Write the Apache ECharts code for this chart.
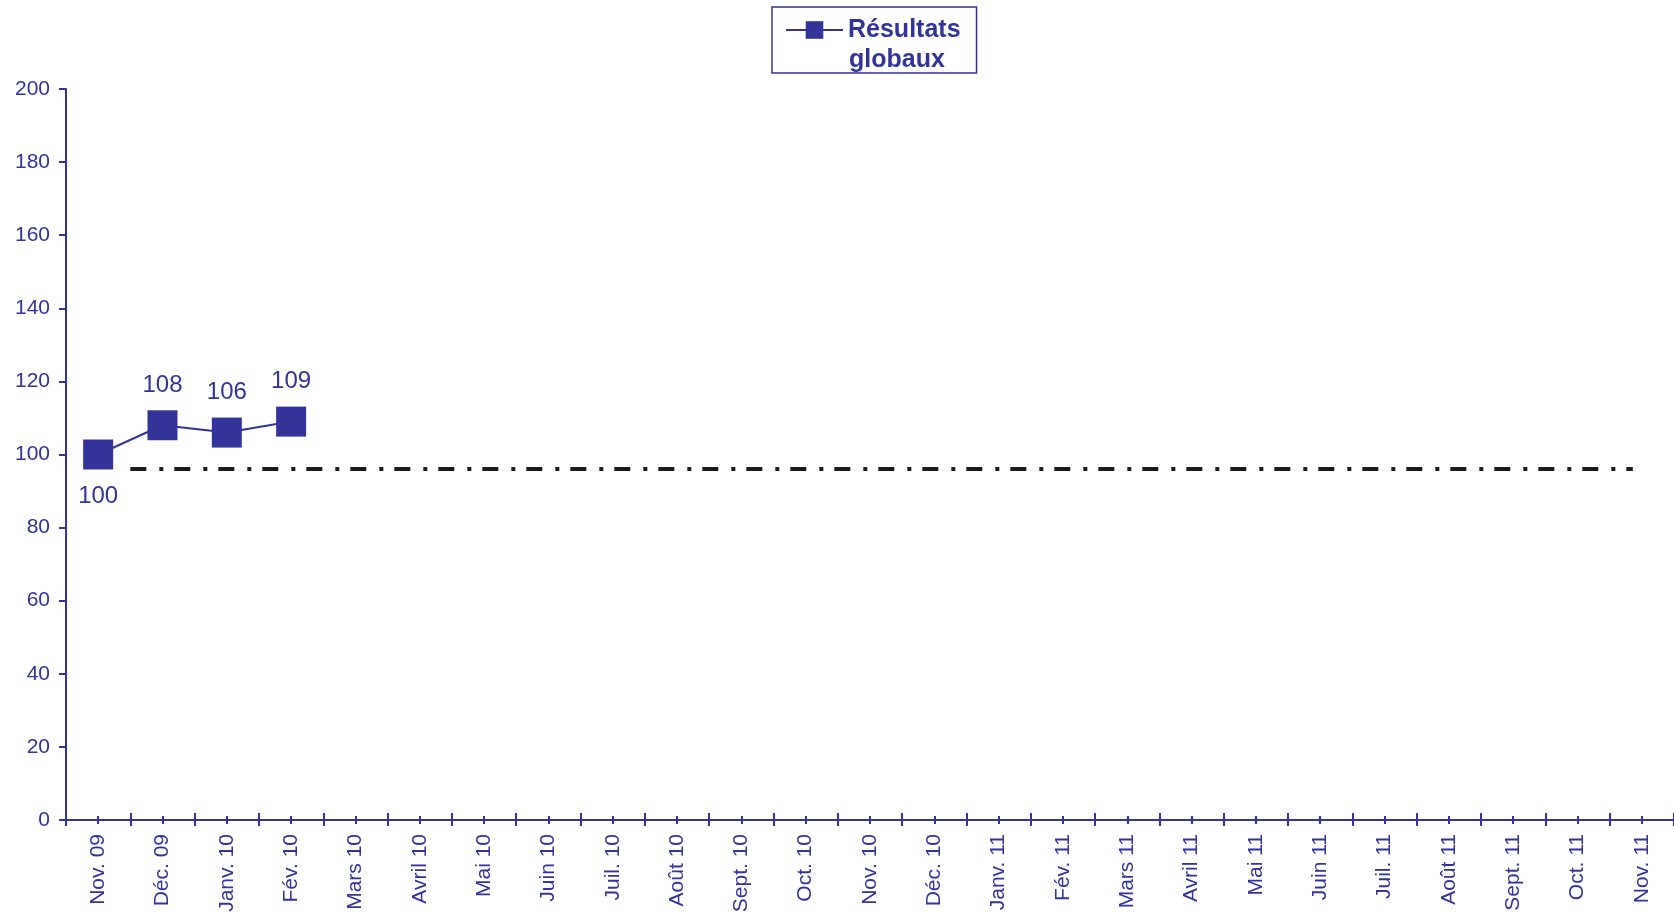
<!DOCTYPE html>
<html>
<head>
<meta charset="utf-8">
<script src="https://cdn.jsdelivr.net/npm/echarts@6/dist/echarts.min.js"></script>
<style>
  html, body { margin: 0; padding: 0; background: #fff; }
  #chart { width: 1674px; height: 917px; }
</style>
</head>
<body>
<div id="chart"></div>
<script>
// data
var months = ['Nov. 09', 'Déc. 09', 'Janv. 10', 'Fév. 10', 'Mars 10', 'Avril 10', 'Mai 10', 'Juin 10',
    'Juil. 10', 'Août 10', 'Sept. 10', 'Oct. 10', 'Nov. 10', 'Déc. 10', 'Janv. 11', 'Fév. 11',
    'Mars 11', 'Avril 11', 'Mai 11', 'Juin 11', 'Juil. 11', 'Août 11', 'Sept. 11', 'Oct. 11', 'Nov. 11'];
var results = [100, 108, 106, 109];
var refLevel = 96;
var refSpan = [1, 24.36]; // in category units, from Déc. 09 boundary to near the end
var yTicks = [0, 200, 20]; // min, max, step

var blue = '#333399';
var font = 'Liberation Sans, Arial, sans-serif';

var myChart = echarts.init(document.getElementById('chart'));

var resultData = results.map(function(v, i) {
    if (i === 0) {
        return { value: v, label: { position: 'bottom', distance: 15 } };
    }
    return v;
});

option = {
    animation: false,
    backgroundColor: '#fff',
    textStyle: { fontFamily: font },
    grid: { left: 66, top: 89, width: 1611, height: 731 },
    legend: {
        data: ['Résultats globaux'],
        left: 772,
        top: 7,
        padding: [9, 16, 29, 13],
        borderColor: blue,
        borderWidth: 1.5,
        borderRadius: 0,
        itemWidth: 57,
        itemHeight: 22,
        formatter: function() { return 'Résultats'; },
        textStyle: {
            color: blue,
            fontSize: 25,
            fontWeight: 'bold',
            fontFamily: font,
            lineHeight: 28
        }
    },
    graphic: [{
        type: 'text',
        left: 849,
        top: 48,
        style: {
            text: 'globaux',
            fill: blue,
            fontSize: 25,
            fontWeight: 'bold',
            fontFamily: font
        }
    }],
    xAxis: [
        {
            type: 'category',
            data: months,
            position: 'bottom',
            boundaryGap: true,
            axisLine: { show: true, lineStyle: { color: blue, width: 2 } },
            axisTick: { show: false },
            axisLabel: {
                rotate: 90,
                interval: 0,
                margin: 14,
                color: blue,
                fontSize: 21,
                fontFamily: font
            }
        },
        {
            // boundary ticks crossing the axis
            type: 'category',
            data: months,
            position: 'bottom',
            boundaryGap: true,
            offset: -7,
            axisLine: { show: false },
            axisLabel: { show: false },
            axisTick: { show: true, interval: 0, length: 13, lineStyle: { color: blue, width: 2 } }
        },
        {
            // short ticks at month centres
            type: 'category',
            data: months,
            position: 'bottom',
            boundaryGap: true,
            offset: -4,
            axisLine: { show: false },
            axisLabel: { show: false },
            axisTick: { show: true, interval: 0, alignWithLabel: true, length: 8, lineStyle: { color: blue, width: 2 } }
        },
        {
            // hidden continuous axis for the reference line
            type: 'value',
            position: 'bottom',
            min: 0,
            max: months.length,
            show: false
        }
    ],
    yAxis: {
        type: 'value',
        min: yTicks[0],
        max: yTicks[1],
        interval: yTicks[2],
        splitLine: { show: false },
        axisLine: { show: true, lineStyle: { color: blue, width: 2 } },
        axisTick: { show: true, length: 7, lineStyle: { color: blue, width: 2 } },
        axisLabel: { color: blue, fontSize: 21, margin: 16, fontFamily: font }
    },
    series: [
        {
            name: 'Résultats globaux',
            type: 'line',
            data: resultData,
            xAxisIndex: 0,
            symbol: 'rect',
            symbolSize: 30,
            color: blue,
            lineStyle: { color: blue, width: 2 },
            itemStyle: { color: blue },
            label: {
                show: true,
                position: 'top',
                distance: 13,
                color: blue,
                fontSize: 24,
                fontFamily: font
            },
            z: 3
        },
        {
            name: 'ref',
            type: 'line',
            xAxisIndex: 3,
            data: [[refSpan[0], refLevel], [refSpan[1], refLevel]],
            symbol: 'none',
            silent: true,
            lineStyle: { color: '#1a1a1a', width: 4, type: [16, 13, 4, 11], cap: 'butt' },
            z: 2
        }
    ]
};
myChart.setOption(option);
</script>
</body>
</html>
